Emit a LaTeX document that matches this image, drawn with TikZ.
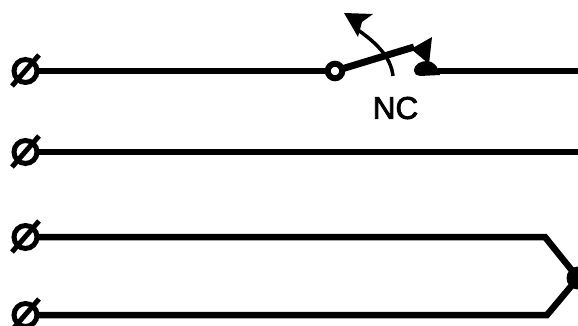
\documentclass[tikz,border=0pt]{standalone}
\usepackage{fontspec}
\setmainfont{Liberation Sans}
\tikzset{
  wire/.style={line width=6.5pt,line cap=butt,line join=miter},
  terminal/.style={circle,draw,line width=5pt,minimum size=23pt,inner sep=0pt,outer sep=0pt},
  slash/.style={line width=5pt},
  swpivot/.style={circle,draw,fill=white,line width=6pt,minimum size=14.5pt,inner sep=0pt,outer sep=0pt},
  junction/.style={circle,fill=black,minimum size=23pt,inner sep=0pt,outer sep=0pt},
}
\begin{document}
\begin{tikzpicture}[x=1pt,y=-1pt]
\path[use as bounding box] (0,0) rectangle (578,326);
\clip (0,0) rectangle (578,326);
\node[terminal] (t1) at (25.5,71) {};
\node[terminal] (t2) at (25.5,152) {};
\node[terminal] (t3) at (25.5,237) {};
\node[terminal] (t4) at (25.5,315) {};
\foreach \t in {t1,t2,t3,t4} \draw[slash] ([shift={(-13.5,15)}]\t.center) -- ([shift={(13.5,-16)}]\t.center);
\node[swpivot] (p) at (335,71) {};
\coordinate (c) at (438,71);
\coordinate (e2) at (578,152);
\coordinate (e1) at (578,71);
\coordinate (b1) at (545,238);
\coordinate (b2) at (547,315);
\node[junction] (j) at (578,278) {};
\draw[wire] (t1) -- (p);
\draw[wire] (c) -- (e1);
\draw[wire] (t2) -- (e2);
\draw[wire] (t3.east) -- (t3.east -| b1) -- (j.center);
\draw[wire] (t4.east) -- (t4.east -| b2) -- (j.center);
% lever and contact
\coordinate (lv) at (414,47);
\draw[line width=7pt] (p) -- (lv);
\fill (411,49) -- (432,37) -- (429,64) -- cycle;
\fill (414,71) .. controls (414,64) and (421,61) .. (427,61) .. controls (433,61) and (438,66) .. (440,75) -- (420,76) .. controls (417,76) and (414,74) .. (414,71) -- cycle;
% actuator arrow
\coordinate (a0) at (393,76);
\coordinate (a1) at (358,30);
\draw[line width=3.5pt] (a0) .. controls (391,58) and (378,44) .. (a1);
\fill (344,13) -- (373,14) -- (362,22) -- (358,37) -- cycle;
\node[font=\fontsize{31.5}{32}\selectfont\addfontfeature{FakeBold=2.5},inner sep=0pt] (nc) at (395.5,108) {NC};
\end{tikzpicture}
\end{document}
